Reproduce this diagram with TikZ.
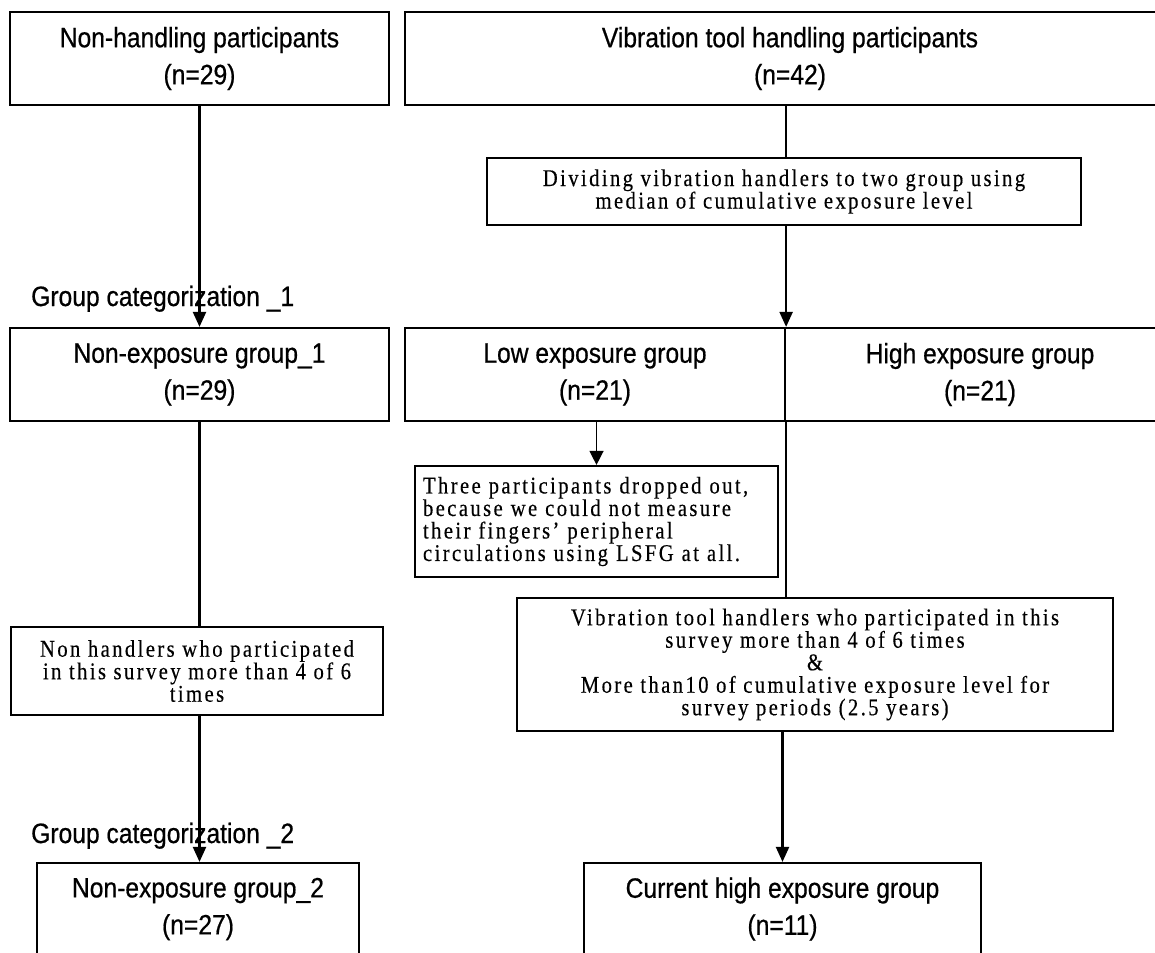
\documentclass[tikz,border=0pt]{standalone}
\usepackage{fontspec}
\usetikzlibrary{arrows.meta}
\newfontfamily\hsans{Liberation Sans}[FakeStretch=0.88,FakeBold=0.6]
\newfontfamily\tserif{Liberation Serif}[FakeStretch=0.86,LetterSpace=10,FakeBold=0.3]
\tikzset{
  box/.style={draw, line width=2.2pt, rectangle, inner sep=0pt},
  sansbox/.style={box, font=\hsans\fontsize{28}{37}\selectfont, align=center},
  serifbox/.style={box, font=\tserif\fontsize{24}{22.5}\selectfont, align=center},
  lab/.style={font=\hsans\fontsize{28}{30}\selectfont, inner sep=0pt, anchor=base west},
  conn/.style={line width=2.2pt},
  arr/.style={line width=2.2pt, -{Triangle[length=15pt,width=13pt]}},
  thinarr/.style={line width=1.4pt, -{Triangle[length=14pt,width=14pt]}}
}
\begin{document}
\begin{tikzpicture}[x=1pt,y=-1pt]
\clip (0,0) rectangle (1155,952);
\fill[white] (0,0) rectangle (1155,952);

% top row
\node[sansbox, minimum width=379pt, minimum height=93pt] (A) at (199.5,58.5)
  {Non-handling participants\\(n=29)};
\node[sansbox, minimum width=770pt, minimum height=93pt] (B) at (790,58.5)
  {Vibration tool handling participants\\(n=42)};

\node[serifbox, minimum width=594pt, minimum height=67pt] (D) at (784,191.5)
  {Dividing vibration handlers to two group using\\median of cumulative exposure level};

% second row
\node[sansbox, minimum width=379pt, minimum height=93pt] (NE1) at (199.5,374.5)
  {Non-exposure group\_1\\(n=29)};
\node[sansbox, minimum width=380pt, minimum height=93pt] (Low) at (595,374.5)
  {Low exposure group\\(n=21)};
\node[sansbox, minimum width=390pt, minimum height=93pt] (High) at (980,374.5)
  {High exposure group\\(n=21)};

\node[box, font=\tserif\fontsize{24}{22.5}\selectfont, align=left, text width=347pt,
  inner xsep=8pt, minimum height=111pt] (Drop) at (596.5,521.5)
  {Three participants dropped out,\\because we could not measure\\their fingers’ peripheral\\circulations using LSFG at all.};

\node[serifbox, minimum width=372pt, minimum height=88pt] (NH) at (197,671)
  {Non handlers who participated\\in this survey more than 4 of 6\\times};

\node[serifbox, minimum width=596pt, minimum height=133pt] (V) at (815,664.5)
  {Vibration tool handlers who participated in this\\survey more than 4 of 6 times\\\&\\More than10 of cumulative exposure level for\\survey periods (2.5 years)};

% bottom row
\node[sansbox, minimum width=322pt, minimum height=92pt] (NE2) at (198,909)
  {Non-exposure group\_2\\(n=27)};
\node[sansbox, minimum width=397pt, minimum height=92pt] (CH) at (782.5,909)
  {Current high exposure group\\(n=11)};

% labels
\node[lab] (G1) at (31,306) {Group categorization \_1};
\node[lab] (G2) at (31,843) {Group categorization \_2};

% connectors
\draw[arr] (A.south -| NE1.north) -- (NE1.north);
\draw[conn] (Low.north east |- B.south) -- (Low.north east |- D.north);
\draw[arr] (Low.north east |- D.south) -- (Low.north east);
\draw[conn, line width=1.8pt] (Low.south east) -- (Low.south east |- V.north);
\draw[thinarr] (Drop.north |- Low.south) -- (Drop.north);
\draw[conn] (NE1.south) -- (NE1.south |- NH.north);
\draw[arr] (NE1.south |- NH.south) -- (NE1.south |- NE2.north);
\draw[arr] (CH.north |- V.south) -- (CH.north);
\end{tikzpicture}
\end{document}
